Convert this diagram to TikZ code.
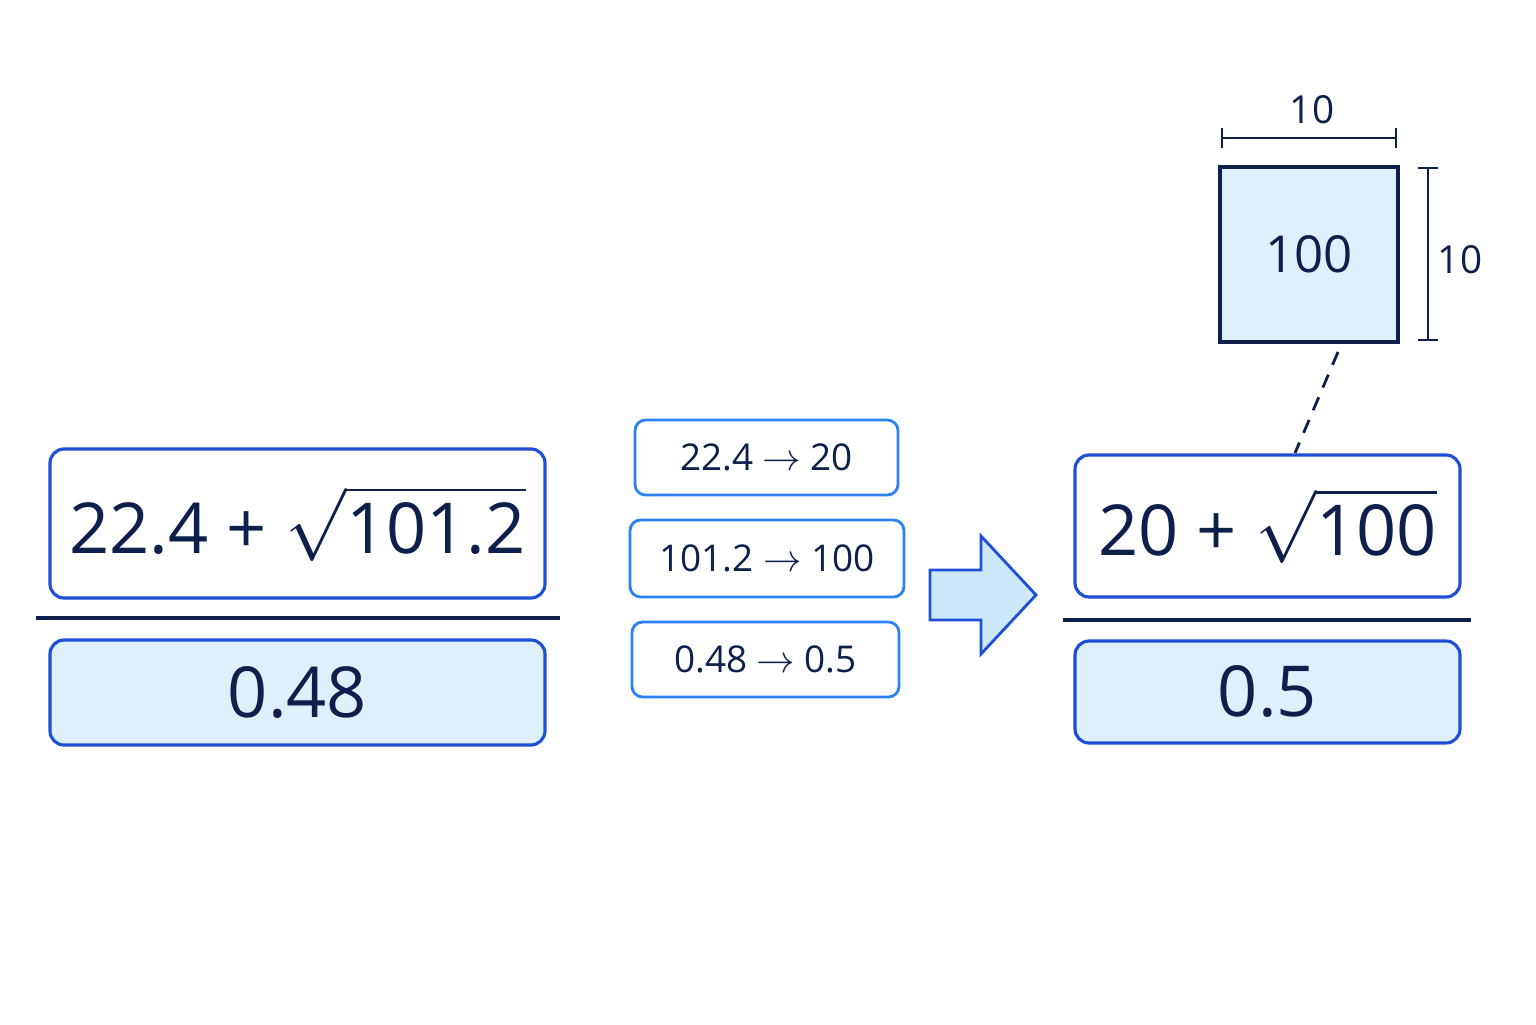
\documentclass[tikz,border=0pt]{standalone}
\usepackage{fontspec}
\setmainfont{Open Sans}
\usepackage{amsmath}
\definecolor{navy}{HTML}{0D1F4A}
\definecolor{edgeblue}{HTML}{1E4FD6}
\definecolor{brightblue}{HTML}{2B82F0}
\definecolor{paleblue}{HTML}{DFF0FD}
\definecolor{arrowfill}{HTML}{CCE9FB}
\tikzset{
  term/.style={draw=edgeblue, line width=0.9pt, rounded corners=4pt, fill=white, text=navy, inner sep=0pt, font=\fontsize{20}{24}\selectfont},
  result/.style={term, fill=paleblue},
  rounding/.style={draw=brightblue, line width=0.8pt, rounded corners=3pt, fill=white, text=navy, inner sep=0pt, font=\fontsize{10.5}{13}\selectfont},
  bar/.style={navy, line width=1pt},
  dim/.style={navy, line width=0.8pt}
}
\begin{document}
\begin{tikzpicture}
    \useasboundingbox (0,0) rectangle (15.36,10.24);
    % left fraction
    \node[term, minimum width=4.95cm, minimum height=1.49cm] (lnum) at (2.975,5.005) {22.4 + $\sqrt{\text{101.2}}$};
    \draw[bar] (0.36,4.06) -- (5.60,4.06);
    \node[result, minimum width=4.95cm, minimum height=1.05cm] (lden) at (2.975,3.315) {0.48};

    % rounding steps
    \node[rounding, minimum width=2.63cm, minimum height=.75cm] (s1) at (7.665,5.665) {22.4 $\rightarrow$ 20};
    \node[rounding, minimum width=2.74cm, minimum height=.77cm] (s2) at (7.67,4.655) {101.2 $\rightarrow$ 100};
    \node[rounding, minimum width=2.67cm, minimum height=.75cm] (s3) at (7.655,3.645) {0.48 $\rightarrow$ 0.5};

    \filldraw[fill=arrowfill, draw=edgeblue, line width=0.8pt, line join=miter]
        (9.30,4.54) -- (9.81,4.54) -- (9.81,4.88) -- (10.36,4.29) -- (9.81,3.70) -- (9.81,4.04) -- (9.30,4.04) -- cycle;

    % right fraction
    \node[term, minimum width=3.85cm, minimum height=1.42cm] (rnum) at (12.675,4.98) {20 + $\sqrt{\text{100}}$};
    \draw[bar] (10.63,4.04) -- (14.71,4.04);
    \node[result, minimum width=3.85cm, minimum height=1.02cm] (rden) at (12.675,3.32) {0.5};

    % square of side 10
    \node[draw=navy, line width=0.9pt, fill=paleblue, minimum width=1.78cm, minimum height=1.75cm, text=navy, font=\fontsize{14.5}{17}\selectfont] (sq) at (13.09,7.695) {100};
    \draw[dim] (12.22,8.86) -- (13.96,8.86);
    \draw[dim] (12.22,8.76) -- (12.22,8.96);
    \draw[dim] (13.96,8.76) -- (13.96,8.96);
    \node[text=navy, font=\fontsize{11}{13}\selectfont] (wlab) at (13.12,9.14) {10};
    \draw[dim] (14.28,8.56) -- (14.28,6.84);
    \draw[dim] (14.18,8.56) -- (14.38,8.56);
    \draw[dim] (14.18,6.84) -- (14.38,6.84);
    \node[text=navy, font=\fontsize{11}{13}\selectfont] (hlab) at (14.6,7.64) {10};
    \coordinate (sqfoot) at (13.38,6.72);
    \coordinate (numtop) at (12.95,5.71);
    \draw[navy, line width=0.8pt, dash pattern=on 4pt off 3pt] (sqfoot) -- (numtop);
\end{tikzpicture}
\end{document}
